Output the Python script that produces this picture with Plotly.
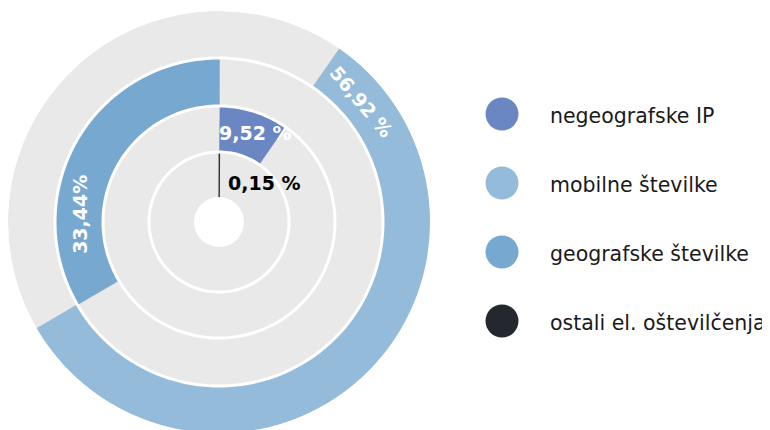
import math
import plotly.graph_objects as go

# ---- data ----
categories = ["negeografske IP", "mobilne številke", "geografske številke", "ostali el. oštevilčenja"]
shares = [9.52, 56.92, 33.44, 0.15]
colors = ["#6a87c3", "#95bbda", "#77a8d0", "#25272e"]
label_texts = ["9,52 %", "56,92 %", "33,44%", "0,15 %"]
# pie order (clockwise from top) and ring of each category
pie_order = [3, 0, 1, 2]
ring_of = [1, 3, 2, 0]

# ---- geometry (figure pixel coords; page body adds 8px offset) ----
W, H = 770, 430
OFF = 8
ring_edges = [25, 70, 116, 164, 211]
R = ring_edges[-1]
cx_s, cy_s = 219, 222          # desired on-screen centre
cx, cy = cx_s - OFF, cy_s - OFF  # in figure coords
dom_x = [(cx - R) / W, (cx + R) / W]
dom_y = [(H - cy - R) / H, (H - cy + R) / H]
scale = 1.0

GREY = "#e9e9e9"
fig = go.Figure()

# grey background rings
for i in range(4):
    fig.add_trace(go.Barpolar(
        theta=[180], width=[360], base=[ring_edges[i]], r=[ring_edges[i + 1] - ring_edges[i]],
        marker=dict(color=GREY, line=dict(width=0)), hoverinfo="skip", showlegend=False))

# coloured segments
start = 0.0
for k in pie_order:
    span = shares[k] / 100 * 360
    ring = ring_of[k]
    fig.add_trace(go.Barpolar(
        theta=[start + span / 2], width=[span], base=[ring_edges[ring]],
        r=[ring_edges[ring + 1] - ring_edges[ring]],
        marker=dict(color=colors[k], line=dict(color=colors[k], width=0.8)),
        name=categories[k], showlegend=False))
    start += span

# white separators between rings
circle_theta = list(range(0, 361, 2))
for e in ring_edges[1:4]:
    fig.add_trace(go.Scatterpolar(
        theta=circle_theta, r=[e] * len(circle_theta), mode="lines",
        line=dict(color="white", width=3), hoverinfo="skip", showlegend=False))

fig.update_layout(
    width=W, height=H, margin=dict(l=0, r=0, t=0, b=0),
    paper_bgcolor="white", plot_bgcolor="white",
    polar=dict(
        domain=dict(x=dom_x, y=dom_y), bgcolor="white", hole=0,
        radialaxis=dict(range=[0, R], visible=False),
        angularaxis=dict(direction="clockwise", rotation=90, visible=False),
    ),
    showlegend=False,
)

FONT = "DejaVu Sans"
# value labels: (angle deg clockwise from top, radius, textangle, colour)
label_pos = [(22.5, 96, 0, "white"), (50, 186, 50, "white"), (273, 140, -90, "white"), (49, 60, 0, "black")]
for k, (ang, r, ta, col) in enumerate(label_pos):
    px = cx + r * scale * math.sin(math.radians(ang))
    py = cy - r * scale * math.cos(math.radians(ang))
    fig.add_annotation(x=px / W, y=1 - py / H, xref="paper", yref="paper",
                       xanchor="center", yanchor="middle",
                       text="<b>" + label_texts[k] + "</b>", showarrow=False, textangle=ta,
                       font=dict(family=FONT, size=19, color=col))

# custom legend (screen coords, converted)
leg_x, leg_y0, leg_dy, leg_r = 502 - OFF, 114 - OFF, 69, 16.5
for i, (cat, col) in enumerate(zip(categories, colors)):
    y = leg_y0 + i * leg_dy
    fig.add_shape(type="circle", xref="paper", yref="paper",
                  x0=(leg_x - leg_r) / W, x1=(leg_x + leg_r) / W,
                  y0=1 - (y + leg_r) / H, y1=1 - (y - leg_r) / H,
                  fillcolor=col, line=dict(width=0))
    fig.add_annotation(x=(548 - OFF) / W, y=1 - (y + 2) / H, xref="paper", yref="paper",
                       xanchor="left", yanchor="middle",
                       text=cat, showarrow=False, font=dict(family=FONT, size=20.5, color="#1a1a1a"))

fig.write_html("out.html")
